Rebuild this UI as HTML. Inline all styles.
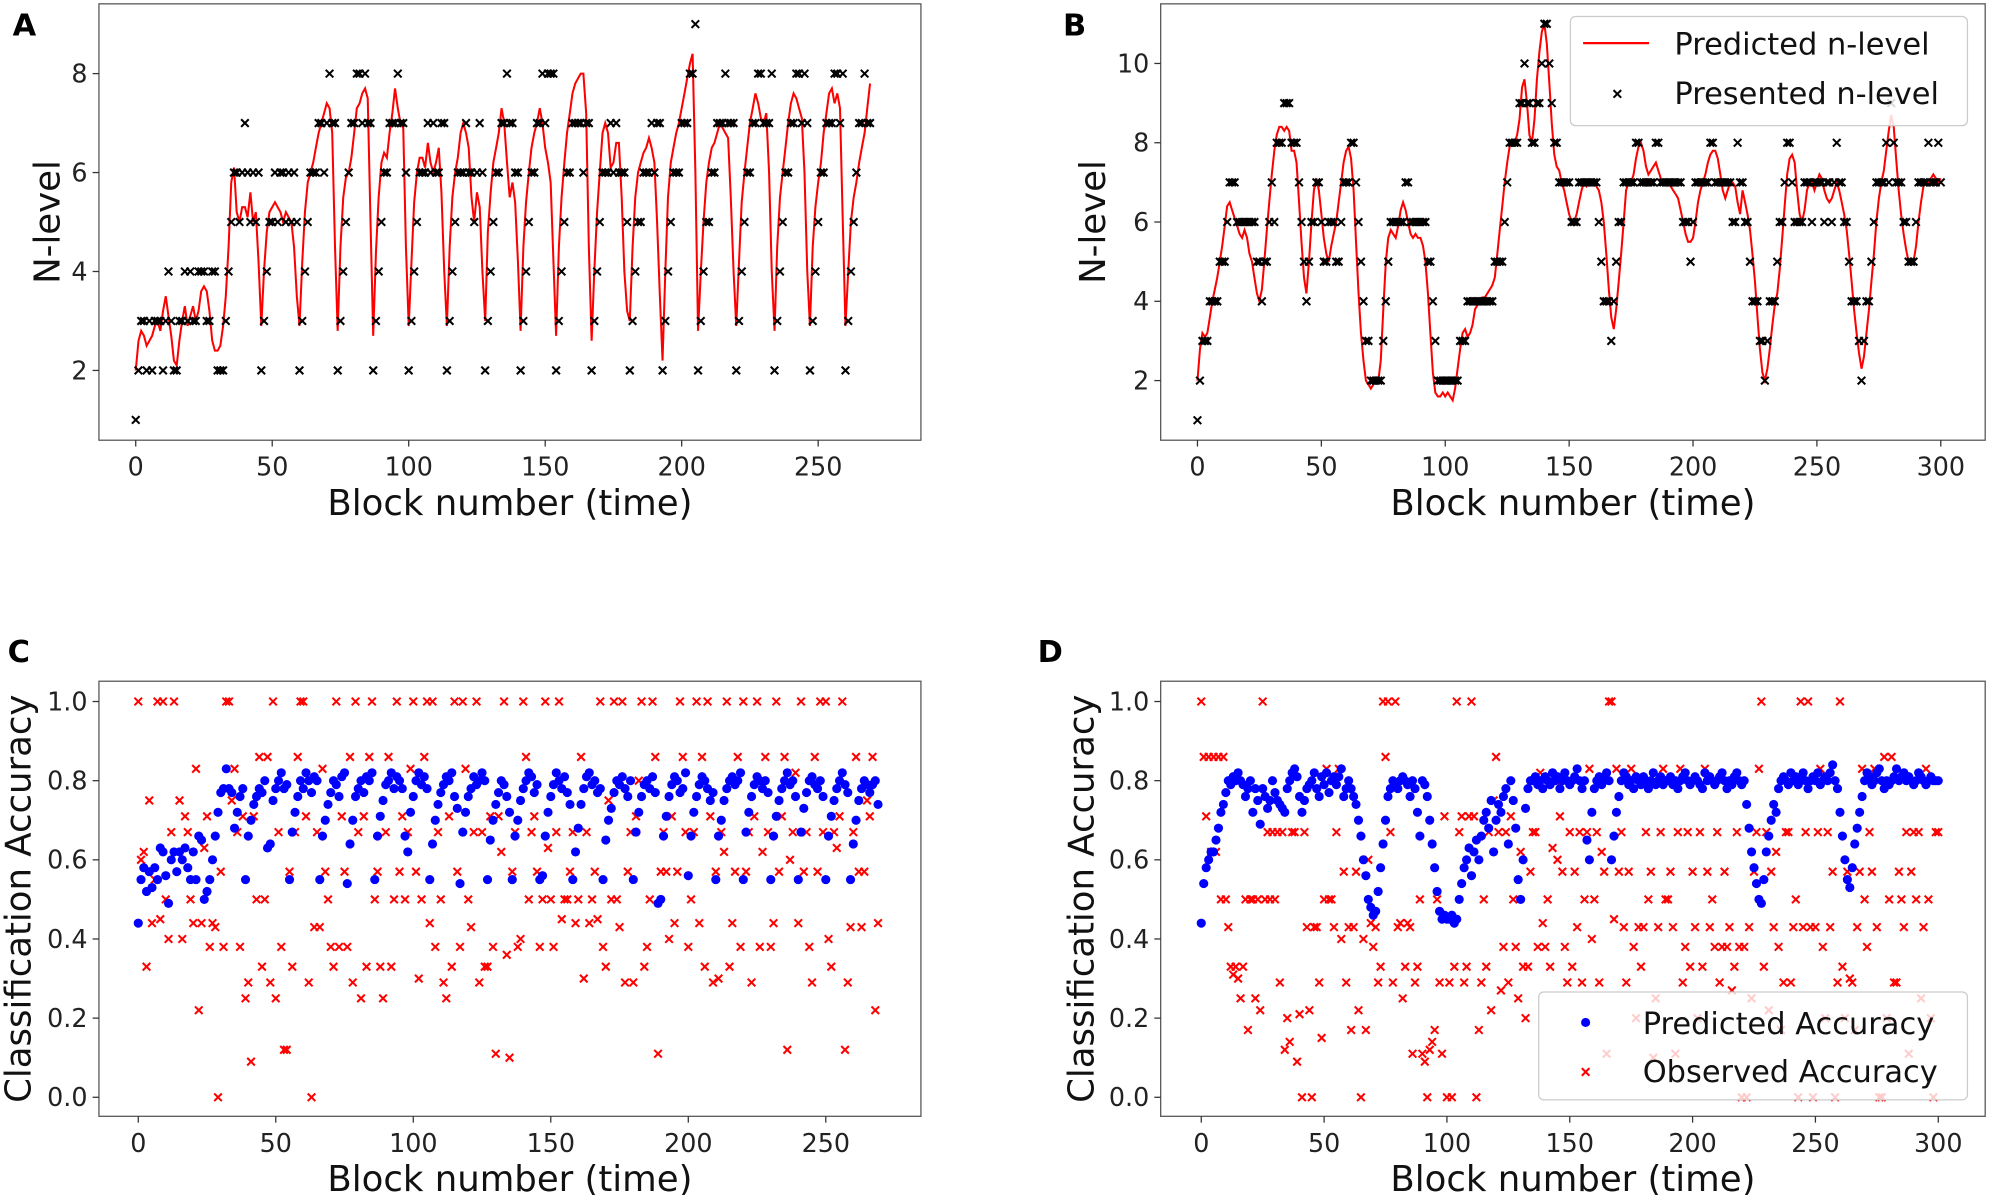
<!DOCTYPE html>
<html><head><meta charset="utf-8"><style>
html,body{margin:0;padding:0;background:#fff;}
svg{display:block;font-family:"DejaVu Sans","Liberation Sans",sans-serif;}
</style></head><body>
<svg id="fig" width="1989" height="1195" viewBox="0 0 1568 942" xmlns="http://www.w3.org/2000/svg"></svg>
<script>
// ---------- DATA ----------
const aPresented=[1,2,3,3,2,3,2,3,3,3, 2,3,4,3,2,2,3,3,4,3, 4,3,3,4,4,4,3,3,4,4, 2,2,2,3,4,5,6,6,5,6, 7,6,5,6,5,6,
2,3,4,5,5,6,5,6,6,5,6,5,6,5, 2,3,4,5,6,6,6,7,7,6,7,8,7,7, 2,3,4,5,6,7,7,8,8,7,8,7,7, 2,3,4,5,6,6,7,7,7,8,7,7,6,
2,3,4,5,6,6,6,7,6,7,6,6,7,7, 2,3,4,5,6,6,6,7,6,6,5,6,7,6, 2,3,4,5,6,6,7,7,8,7,7,6,6, 2,3,4,5,6,6,7,7,8,7,8,8,8,
2,3,4,5,6,6,7,7,7,7,6,7,7, 2,3,4,5,6,6,6,7,6,7,6,6,6,5, 2,3,4,5,5,6,6,6,7,6,7,7, 2,3,4,5,6,6,6,7,7,7,8,8,9,
2,3,4,5,5,6,6,7,7,7,8,7,7,7, 2,3,4,5,6,6,7,7,8,8,7,7,7,8, 2,3,4,5,6,6,7,7,8,8,7,8,7, 2,3,4,5,6,6,7,7,7,8,8,7,8, 2,3,4,5,6,7,7,8,7,7];
const aPredicted=[2.0,2.6,2.8,2.7,2.5,2.6,2.7,2.9,3.0,2.8, 3.2,3.5,3.1,2.7,2.2,2.1,2.6,3.0,3.3,2.9, 3.1,3.3,3.0,3.2,3.6,3.7,3.6,3.2,2.6,2.4, 2.4,2.5,2.9,3.5,4.5,5.8,6.1,5.2,5.0,5.3, 5.3,5.1,5.6,5.0,5.2,4.2,
2.9,4.0,4.8,5.2,5.3,5.4,5.3,5.2,5.0,5.2,5.1,5.0,4.5,3.5, 2.9,4.2,5.2,5.8,6.0,6.2,6.5,6.8,7.0,7.2,7.4,7.3,6.8,4.5, 2.8,4.5,5.5,5.9,6.0,6.3,6.8,7.3,7.4,7.6,7.7,7.5,5.0, 2.7,4.4,5.5,6.2,6.4,6.3,6.8,7.2,7.7,7.3,7.0,6.9,4.5,
2.9,4.2,5.4,6.0,6.3,6.3,6.1,6.6,6.2,6.0,6.2,6.5,5.6,4.0, 2.9,4.5,5.5,6.0,6.3,6.8,7.0,6.8,6.5,5.5,5.0,5.6,5.3,4.0, 3.0,4.8,5.6,6.2,6.5,6.8,7.3,7.0,6.2,5.5,5.8,5.4,4.2, 2.8,4.5,5.4,6.0,6.5,6.8,7.0,7.3,7.0,6.5,6.2,5.8,4.2,
2.7,4.5,5.5,6.2,6.8,7.2,7.6,7.8,7.9,8.0,8.0,7.2,4.5, 2.6,4.0,5.2,6.0,6.8,7.0,6.8,6.1,6.2,6.6,6.6,5.5,4.0,3.2, 3.0,4.5,5.5,6.0,6.2,6.4,6.5,6.7,6.5,6.2,5.0,3.5, 2.2,4.0,5.5,6.2,6.5,6.8,7.0,7.3,7.6,7.9,8.2,8.4,6.0,
2.8,4.0,5.0,5.8,6.2,6.5,6.6,6.8,7.0,6.9,6.8,6.7,5.5,4.0, 2.9,4.2,5.4,6.0,6.5,7.0,7.3,7.6,7.4,7.1,7.0,7.2,6.0,4.0, 2.8,4.5,5.5,6.0,6.5,7.0,7.4,7.6,7.5,7.3,7.1,6.0,4.0, 2.9,4.5,5.3,5.8,6.2,6.8,7.2,7.6,7.7,7.4,7.6,7.3,5.0, 2.9,4.0,5.0,5.5,5.8,6.2,6.5,6.8,7.3,7.8];
const bPresented=[1,2,3,3,3,4,4,4,4,5, 5,5,6,7,7,7,6,6,6,6, 6,6,6,6,5,5,4,5,5,6, 7,6,8,8,8,9,9,9,8,8, 8,7,6,5,4,5,6,6,7,7, 6,5,5,6,6,6,5,5,6,7, 7,7,8,8,7,6,5,4,3,3,
2,2,2,2,2,3,4,5,6,6, 6,6,6,6,7,7,6,6,6,6, 6,6,6,5,5,4,3,2,2,2, 2,2,2,2,2,2,3,3,3,4, 4,4,4,4,4,4,4,4,4,4, 5,5,5,5,6,7,8,8,8,8, 9,9,10,9,9,8,8,9,9,10,
11,11,10,9,8,8,7,7,7,7, 7,6,6,6,7,7,7,7,7,7, 7,7,6,5,4,4,4,3,4,5, 6,6,7,7,7,7,7,8,8,7, 7,7,7,7,7,8,8,7,7,7, 7,7,7,7,7,7,6,6,6,5, 6,7,7,7,7,7,7,8,8,7,
7,7,7,7,7,7,6,6,8,7, 7,6,6,5,4,4,4,3,3,2, 3,4,4,4,5,6,6,7,8,8, 7,6,6,6,6,7,7,7,6,7, 7,7,7,6,7,7,6,7,8,7, 7,6,6,5,4,4,4,3,2,3, 4,4,5,6,7,7,7,7,8,7, 9,8,7,7,7,6,6,5,5,5, 6,7,7,7,7,8,7,7,7,8, 7];
const bPredicted=[2.0,2.8,3.2,3.1,3.2,3.6,4.0,4.3,4.6,5.0, 5.4,5.9,6.4,6.5,6.3,6.1,5.9,5.7,5.6,5.8, 5.6,5.2,5.0,4.6,4.2,4.0,4.3,5.0,5.8,6.5, 7.2,7.8,8.2,8.4,8.4,8.3,8.4,8.3,7.8,7.8,
7.5,6.5,5.5,4.6,4.2,5.0,6.0,6.8,7.1,6.8, 6.2,5.6,5.2,5.0,5.4,5.7,6.0,6.5,7.0,7.5, 7.8,7.9,7.6,6.8,5.5,4.2,3.2,2.5,2.0,1.9, 1.8,1.9,2.0,2.0,2.5,3.8,5.0,5.6,5.8,5.7,
5.6,5.9,6.3,6.5,6.3,6.0,5.7,5.6,5.7,5.6, 5.6,5.4,5.0,4.2,3.2,2.2,1.7,1.6,1.6,1.7, 1.6,1.7,1.6,1.5,1.8,2.3,2.8,3.2,3.3,3.1, 3.2,3.4,3.8,3.9,4.0,4.1,4.1,4.2,4.3,4.4,
4.6,5.2,5.8,6.4,7.0,7.5,7.9,8.0,8.0,8.2, 8.6,9.4,9.6,9.0,8.2,8.0,8.6,9.6,10.3,10.8, 11.0,10.5,9.5,8.5,7.7,7.4,7.3,7.0,6.8,6.5, 6.2,6.0,6.0,6.2,6.5,6.8,7.0,6.9,7.0,7.0,
7.0,6.9,6.8,6.5,6.0,5.2,4.3,3.6,3.3,3.8, 4.5,5.2,6.0,6.8,7.0,7.0,7.2,7.6,7.9,8.0, 7.8,7.4,7.2,7.3,7.4,7.5,7.3,7.1,7.0,7.0, 7.0,6.9,6.8,6.7,6.6,6.3,6.0,5.7,5.5,5.5,
5.6,6.0,6.5,6.8,7.0,7.2,7.5,7.7,7.8,7.8, 7.6,7.2,6.8,6.6,6.8,7.0,7.0,6.9,6.5,6.2, 6.8,6.5,6.2,5.8,5.2,4.5,3.6,2.8,2.2,2.0, 2.3,2.8,3.4,3.9,4.2,4.8,5.6,6.4,7.2,7.6,
7.7,7.5,6.8,6.2,6.0,6.3,6.8,7.0,7.0,6.8, 7.0,7.2,7.1,6.8,6.6,6.5,6.6,6.8,7.0,6.8, 6.5,6.2,5.8,5.2,4.5,3.8,3.2,2.7,2.3,2.6, 3.2,3.8,4.5,5.2,6.0,6.6,7.0,7.3,7.8,8.3,
8.7,8.4,7.6,6.8,6.2,5.7,5.3,5.0,5.0,5.0, 5.4,6.0,6.5,6.9,7.0,7.0,7.1,7.2,7.1,7.0, 7.1];
const cPredicted=[.44,.55,.58,.52,.57,.53,.58,.55,.63,.62, .56,.49,.6,.62,.57,.62,.6,.63,.58,.55, .62,.55,.66,.65,.5,.52,.55,.6,.66,.72, .77,.78,.83,.78,.77,.68,.72,.76,.78,.55,
.66,.7,.74,.76,.78,.77,.8,.63,.64,.75, .78,.8,.82,.78,.79,.55,.67,.72,.76,.8, .78,.82,.8,.77,.81,.8,.55,.66,.7,.74, .77,.8,.79,.76,.81,.82,.54,.64,.7,.76, .78,.8,.77,.81,.8,.82,.55,.66,.71,.75,
.79,.8,.82,.78,.81,.8,.78,.66,.62,.72, .76,.8,.82,.79,.81,.78,.55,.64,.7,.74, .77,.79,.81,.8,.82,.76,.73,.54,.67,.72, .76,.78,.81,.79,.8,.82,.8,.55,.65,.7, .74,.77,.8,.79,.76,.72,.55,.66,.7,.75,
.78,.8,.82,.81,.77,.79,.55,.56,.66,.72, .76,.79,.82,.8,.78,.81,.77,.74,.55,.62, .68,.74,.78,.81,.82,.79,.8,.77,.78,.55, .65,.7,.73,.77,.8,.79,.81,.78,.76,.8, .55,.67,.72,.76,.79,.8,.78,.81,.77,.49,
.5,.66,.71,.76,.79,.81,.8,.77,.78,.82, .56,.66,.72,.76,.79,.81,.8,.78,.75,.77, .55,.66,.7,.75,.78,.8,.81,.79,.8,.82, .55,.67,.72,.76,.79,.81,.8,.78,.8,.77, .55,.66,.71,.75,.78,.8,.82,.79,.8,.76,
.55,.67,.73,.77,.8,.81,.79,.78,.8,.76, .55,.66,.71,.75,.78,.8,.82,.79,.77,.55, .64,.7,.75,.78,.8,.79,.77,.79,.8,.74];
const cObserved=[1,.6,.62,.33,.75,.44,.55,1,.45,1, .5,.4,.67,1,.62,.75,.4,.71,.67,.5, .44,.83,.22,.44,.63,.71,.38,.44,.43,0, .57,.38,1,1,.75,.83,.67,.38,.71,.25,
.29,.09,.71,.5,.86,.33,.5,.86,.29,1, .25,.67,.38,.12,.12,.57,.33,.67,.86,1, 1,.71,.29,0,.43,.67,.43,.83,.57,.5, .38,.33,1,.38,.71,.57,.38,.86,.29,1, .67,.25,.71,.33,.86,1,.5,.57,.33,.25,
.67,.86,.33,.5,1,.57,.71,.5,.67,.83, 1,.57,.3,.5,.86,1,.44,1,.38,.67, .5,.29,.25,.71,.33,1,.57,.38,1,.83, .5,.43,.67,1,.29,.67,.33,.33,.71,.38, .11,.71,.62,1,.36,.1,.57,.67,.38,.4,
1,.86,.5,.67,.71,.57,.38,.5,1,.63, .5,.38,.67,1,.45,.5,.5,.57,.67,.44, .5,.86,.3,.67,.44,.5,.57,.45,1,.38, .33,.75,.5,1,.5,.43,1,.29,.57,.67, .29,.71,.8,1,.33,.38,.5,1,.86,.11,
.57,.67,.57,.4,.71,.44,.57,1,.86,.67, .38,.5,.67,1,.44,.86,.33,1,.71,.29, .57,.3,.67,.62,1,.33,.44,.57,.86,.38, 1,.57,.67,.29,.71,1,.38,.62,.86,.67, .38,.44,1,.57,.71,.86,.12,.6,.67,.82,
.44,1,.57,.67,.38,.29,.86,.57,1,.67, 1,.4,.33,.67,.63,.71,1,.12,.29,.43, .67,.86,.57,.43,.57,.75,.71,.86,.22,.44];
const dPredicted=[.44,.54,.58,.6,.62,.62,.65,.68,.72,.74, .77,.8,.79,.81,.8,.82,.8,.79,.76,.78, .8,.72,.78,.75,.69,.78,.76,.73,.75,.8, .77,.75,.74,.73,.72,.78,.8,.82,.83,.81, .76,.72,.75,.78,.79,.8,.82,.78,.76,.81,
.79,.82,.77,.8,.81,.79,.81,.83,.76,.78, .8,.78,.76,.74,.7,.66,.6,.56,.5,.48, .46,.47,.52,.58,.64,.7,.76,.78,.8,.79, .78,.8,.81,.8,.79,.76,.8,.78,.72,.66, .8,.79,.76,.7,.64,.58,.52,.47,.45,.46,
.45,.45,.46,.44,.45,.5,.54,.58,.6,.63, .56,.62,.65,.6,.66,.7,.72,.68,.75,.62, .7,.74,.72,.76,.78,.64,.8,.75,.68,.55, .5,.6,.73,.78,.8,.8,.81,.79,.8,.78, .81,.8,.79,.82,.8,.81,.78,.8,.82,.8,
.79,.8,.81,.83,.8,.78,.8,.65,.6,.72, .78,.8,.81,.79,.8,.82,.8,.6,.66,.72, .76,.8,.82,.81,.79,.8,.78,.81,.8,.79, .81,.8,.78,.8,.82,.79,.8,.81,.79,.8, .8,.81,.79,.8,.78,.8,.81,.82,.8,.79,
.8,.81,.8,.79,.78,.82,.8,.81,.8,.79, .8,.81,.82,.8,.78,.8,.79,.81,.82,.8, .79,.8,.74,.68,.62,.58,.54,.5,.49,.55, .62,.66,.7,.74,.72,.78,.8,.81,.8,.79, .82,.8,.81,.79,.8,.82,.8,.78,.8,.81,
.8,.82,.79,.8,.81,.8,.82,.84,.8,.78, .72,.66,.6,.55,.53,.58,.64,.68,.72,.76, .8,.82,.81,.79,.8,.82,.83,.8,.78,.8, .79,.8,.81,.83,.8,.81,.82,.8,.81,.8, .79,.8,.82,.81,.8,.79,.8,.81,.8,.8, .8];
const dObserved=[1,.86,.71,.86,.62,.86,.62,.86,.5,.86, .5,.43,.33,.31,.33,.3,.25,.33,.5,.17, .5,.5,.25,.5,.22,1,.5,.67,.5,.67, .5,.67,.29,.67,.12,.2,.14,.67,.67,.09, .21,0,.67,.43,.22,0,.43,.43,.29,.15,
.5,.83,.5,.5,.43,.67,.83,.4,.57,.29, .43,.17,.43,.57,.22,0,.4,.17,.6,.44, .38,.43,.29,.33,1,.86,1,.67,.29,1, .43,.44,.25,.33,.44,.43,.11,.29,.33,.5, .11,.09,0,.12,.14,.17,.5,.29,.11,.71,
0,.29,0,.33,1,.67,.71,.29,.33,.71, 1,.71,0,.17,.29,.5,.33,.67,.22,.75, .86,.67,.27,.38,.67,.29,.71,.5,.38,.25, .62,.33,.2,.33,.57,.67,.67,.38,.82,.44, .38,.5,.33,.63,.8,.6,.71,.57,.38,.29,
.67,.33,.57,.43,.67,.29,.5,.67,.83,.4, .5,.67,.29,.62,.57,.11,1,1,.45,.83, .57,.67,.43,.29,.57,.83,.38,.2,.43,.33, .43,.67,.5,.57,.1,.25,.43,.67,.83,.5, .5,.57,.43,.11,.67,.83,.29,.38,.67,.33,
.57,.43,.2,.67,.33,.83,.57,.43,.5,.38, .67,.29,.38,.57,.38,.43,.27,.33,.67,.38, 0,.38,0,.43,.25,.57,.67,.83,1,.33, .67,.22,.57,.43,.62,.38,.17,.29,.67,.67, .29,.43,.5,0,1,.43,.67,1,.43,0,
.43,.67,.83,.38,.2,.67,.43,.57,0,.29, 1,.33,.2,.57,.3,.29,.17,.43,.57,.83, .5,.38,.67,.57,.83,.43,0,0,.86,.2, .5,.86,.29,.29,.57,.5,.43,.67,.11,.57, .67,.5,.67,.25,.43,.83,.5,.2,0,.67, .67];
const xTicksA=[0,50,100,150,200,250], xTicksB=[0,50,100,150,200,250,300];
const yTicksA=[2,4,6,8], yTicksB=[2,4,6,8,10];
const yTicksAcc=[0,0.2,0.4,0.6,0.8,1.0];

// ---------- DRAWING ----------
const NS='http://www.w3.org/2000/svg';
const svg=document.getElementById('fig');
function mk(tag,attrs,parent){const e=document.createElementNS(NS,tag);for(const k in attrs)e.setAttribute(k,attrs[k]);(parent||svg).appendChild(e);return e;}
function txt(s,attrs,parent){const e=mk('text',attrs,parent);e.textContent=s;return e;}
function lin(d0,d1,r0,r1){return v=>r0+(v-d0)/(d1-d0)*(r1-r0);}
function xMark(g,x,y,s,color){return mk('path',{d:`M${x-s},${y-s}L${x+s},${y+s}M${x-s},${y+s}L${x+s},${y-s}`,stroke:color,'stroke-width':1.6,fill:'none'},g);}

function panel(cfg){
  const g=mk('g',{});
  
  
  const {L,R,T,B}=cfg.box;
  const fr=mk('rect',{x:L,y:T,width:R-L,height:B-T,fill:'none',stroke:'#555','stroke-width':1},g);
  
  
  cfg.xt.forEach(v=>{const x=cfg.sx(v);
    mk('line',{x1:x,y1:B,x2:x,y2:B+5,stroke:'#333'},g);
    const t=txt(String(v),{x:x,y:B+28,'font-size':20,'text-anchor':'middle',fill:'#222'},g);
    
    });
  cfg.yt.forEach(v=>{const y=cfg.sy(v);
    mk('line',{x1:L-5,y1:y,x2:L,y2:y,stroke:'#333'},g);
    const t=txt(cfg.yfmt(v),{x:L-9,y:y+7,'font-size':20,'text-anchor':'end',fill:'#222'},g);
    
    });
  const xl=txt('Block number (time)',{x:(L+R)/2,y:B+59,'font-size':28,'text-anchor':'middle',fill:'#111'},g);
  
  
  const yl=txt(cfg.ylabel,{x:0,y:0,'font-size':28,'text-anchor':'middle',fill:'#111',transform:`translate(${cfg.ylx},${(T+B)/2}) rotate(-90)`},g);
  
  
  const pl=txt(cfg.letter,{x:cfg.lx,y:cfg.ly,'font-size':24,'font-weight':'bold',fill:'#000'},g);
  
  
  return g;
}

// Panel A
(function(){
  const sx=lin(0,250,107,645), sy=lin(2,8,292,58);
  const g=panel({name:'panel-a',box:{L:78,R:726,T:3,B:347},sx,sy,xt:xTicksA,yt:yTicksA,yfmt:v=>String(v),ylabel:'N-level',ylx:47,letter:'A',lx:10,ly:28});
  const pts=aPredicted.map((v,i)=>`${sx(i).toFixed(1)},${sy(v).toFixed(1)}`).join(' ');
  const pl=mk('polyline',{points:pts,fill:'none',stroke:'#f00','stroke-width':1.6},g);
  
  
  aPresented.forEach((v,i)=>{const m=xMark(g,sx(i),sy(v),3,'#000');
    
    });
})();

// Panel B
(function(){
  const sx=lin(0,300,944,1530), sy=lin(2,10,300,50);
  const g=panel({name:'panel-b',box:{L:915,R:1565,T:3,B:347},sx,sy,xt:xTicksB,yt:yTicksB,yfmt:v=>String(v),ylabel:'N-level',ylx:871,letter:'B',lx:838,ly:28});
  const pts=bPredicted.map((v,i)=>`${sx(i).toFixed(1)},${sy(v).toFixed(1)}`).join(' ');
  const pl=mk('polyline',{points:pts,fill:'none',stroke:'#f00','stroke-width':1.6},g);
  
  
  bPresented.forEach((v,i)=>{const m=xMark(g,sx(i),sy(v),3,'#000');
    
    });
  const lg=mk('g',{},g);
  
  
  mk('rect',{x:1238,y:13,width:313,height:86,rx:4,fill:'#fff','fill-opacity':0.85,stroke:'#ccc'},lg);
  mk('line',{x1:1248,y1:34,x2:1300,y2:34,stroke:'#f00','stroke-width':1.8},lg);
  const t1=txt('Predicted n-level',{x:1320,y:43,'font-size':24,fill:'#111'},lg);
  
  
  xMark(lg,1275,74,3,'#000');
  const t2=txt('Presented n-level',{x:1320,y:82,'font-size':24,fill:'#111'},lg);
  
  
})();

// Panel C
(function(){
  const sx=lin(0,250,109,651), sy=lin(0,1,865,553);
  const g=panel({name:'panel-c',box:{L:78,R:726,T:537,B:880},sx,sy,xt:xTicksA,yt:yTicksAcc,yfmt:v=>v.toFixed(1),ylabel:'Classification Accuracy',ylx:24,letter:'C',lx:6,ly:522});
  cObserved.forEach((v,i)=>{const m=xMark(g,sx(i),sy(v),3,'#f00');
    
    });
  cPredicted.forEach((v,i)=>{const c=mk('circle',{cx:sx(i),cy:sy(v),r:3.6,fill:'#00f'},g);
    
    });
})();

// Panel D
(function(){
  const sx=lin(0,300,947,1528), sy=lin(0,1,865,553);
  const g=panel({name:'panel-d',box:{L:915,R:1565,T:537,B:880},sx,sy,xt:xTicksB,yt:yTicksAcc,yfmt:v=>v.toFixed(1),ylabel:'Classification Accuracy',ylx:862,letter:'D',lx:818,ly:522});
  dObserved.forEach((v,i)=>{const m=xMark(g,sx(i),sy(v),3,'#f00');
    
    });
  dPredicted.forEach((v,i)=>{const c=mk('circle',{cx:sx(i),cy:sy(v),r:3.6,fill:'#00f'},g);
    
    });
  const lg=mk('g',{},g);
  
  
  mk('rect',{x:1213,y:782,width:338,height:85,rx:4,fill:'#fff','fill-opacity':0.8,stroke:'#ccc'},lg);
  mk('circle',{cx:1250,cy:806,r:3.6,fill:'#00f'},lg);
  const t1=txt('Predicted Accuracy',{x:1295,y:815,'font-size':24,fill:'#111'},lg);
  
  
  xMark(lg,1250,845,3,'#f00');
  const t2=txt('Observed Accuracy',{x:1295,y:853,'font-size':24,fill:'#111'},lg);
  
  
})();
</script>
</body></html>
